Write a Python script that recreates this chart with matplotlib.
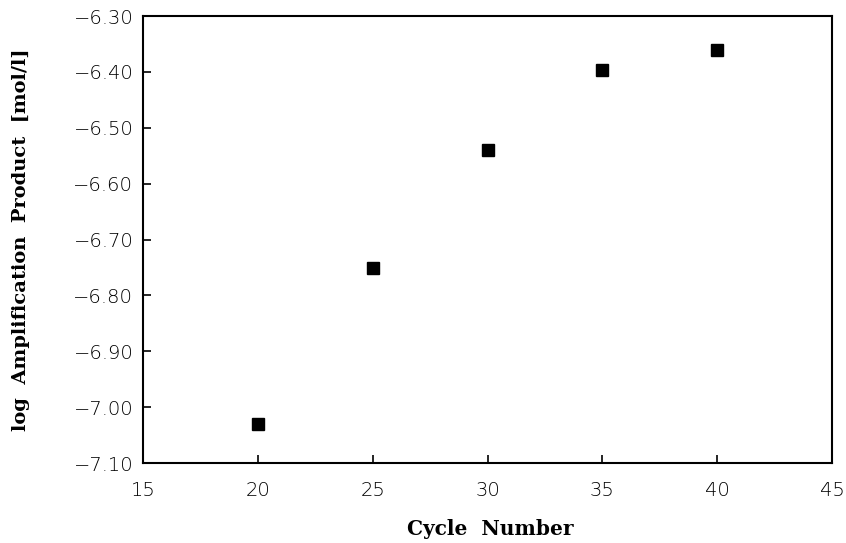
import matplotlib
matplotlib.use("Agg")
import matplotlib.pyplot as plt

# cycle number vs log amplification product
cycles = [20, 25, 30, 35, 40]
log_product = [-7.031, -6.751, -6.540, -6.397, -6.360]

x_ticks = [15, 20, 25, 30, 35, 40, 45]
y_ticks = [-6.30, -6.40, -6.50, -6.60, -6.70, -6.80, -6.90, -7.00, -7.10]

fig = plt.figure(figsize=(8.46, 5.43), dpi=100)
ax = fig.add_axes([0.169, 0.1473, 0.8145, 0.8232])

ax.plot(cycles, log_product, linestyle="none", marker="s", markersize=9,
        color="black")

ax.set_xlim(15, 45)
ax.set_ylim(-7.10, -6.30)
ax.set_xticks(x_ticks)
ax.set_xticklabels([str(t) for t in x_ticks])
ax.set_yticks(y_ticks)
ax.set_yticklabels(["\u2212%.2f" % abs(t) for t in y_ticks])

ax.tick_params(direction="in", length=6, width=1.2, labelsize=14)
ax.tick_params(axis="y", pad=7)
ax.tick_params(axis="x", pad=13)
ax.tick_params(top=False, right=False)
for s in ax.spines.values():
    s.set_linewidth(1.5)

for lab in ax.get_xticklabels() + ax.get_yticklabels():
    lab.set_family("DejaVu Sans")
    lab.set_fontweight("light")

# axis titles placed in figure coords to match the layout
fig.text(21 / 846, 1 - 240 / 543, "log  Amplification  Product  [mol/l]",
         family="DejaVu Serif", fontweight="bold", fontsize=14,
         rotation=90, ha="center", va="center")
fig.text(490 / 846, 1 - 529 / 543, "Cycle  Number", family="DejaVu Serif",
         fontweight="bold", fontsize=14.5, ha="center", va="center")

fig.savefig("out.png", dpi=100)
